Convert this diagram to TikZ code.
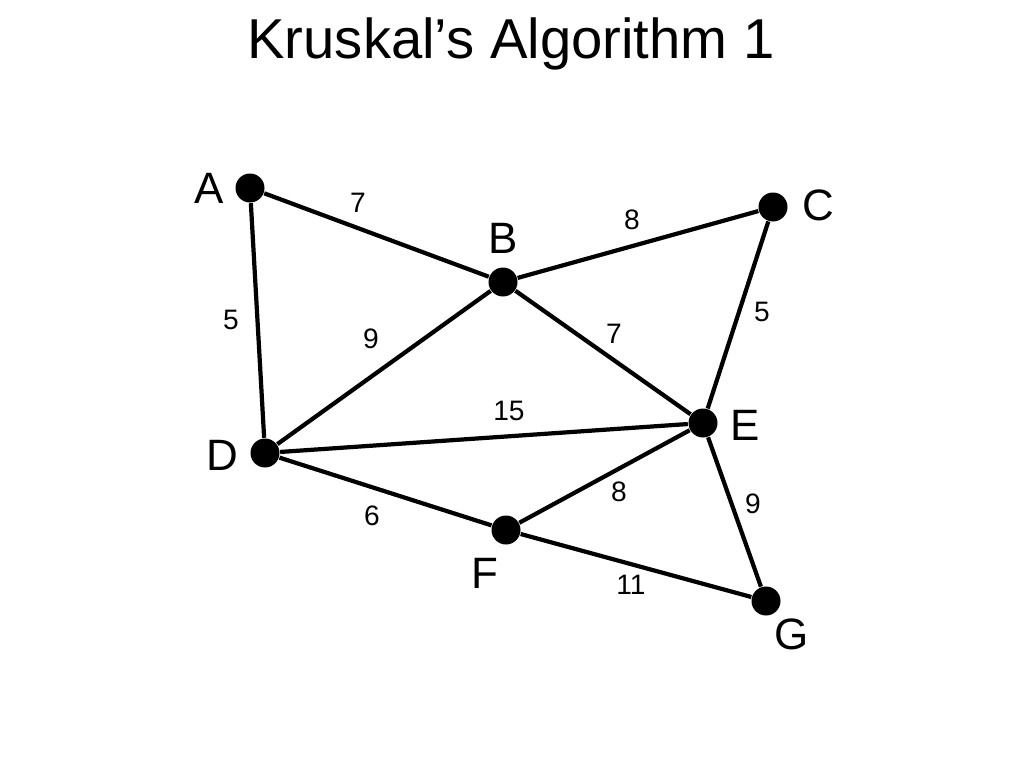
\documentclass[tikz,border=0pt]{standalone}
\usepackage{fontspec}
\setmainfont{Liberation Sans}
\usepackage{tikz}

\begin{document}
\begin{tikzpicture}[
    vertex/.style={circle, fill=black, inner sep=0pt, minimum size=0.29cm},
    vname/.style={font=\fontsize{12.5}{14}\selectfont, inner sep=0pt},
    weight/.style={font=\fontsize{8}{10}\selectfont, inner sep=0pt},
    edge/.style={line width=1.2pt}
]
    \useasboundingbox (0,0) rectangle (10.24,-7.68);

    % title
    \node[font=\fontsize{16}{19}\selectfont] (title) at (5.11,-0.44) {Kruskal’s Algorithm 1};

    % vertices
    \node[vertex] (A) at (2.50,-1.88) {};
    \node[vertex] (B) at (5.03,-2.82) {};
    \node[vertex] (C) at (7.73,-2.07) {};
    \node[vertex] (D) at (2.65,-4.53) {};
    \node[vertex] (E) at (7.03,-4.23) {};
    \node[vertex] (F) at (5.06,-5.30) {};
    \node[vertex] (G) at (7.66,-6.01) {};

    \node[vname] (lA) at (2.09,-1.88) {A};
    \node[vname] (lB) at (5.03,-2.38) {B};
    \node[vname] (lC) at (8.18,-2.05) {C};
    \node[vname] (lD) at (2.22,-4.55) {D};
    \node[vname] (lE) at (7.45,-4.25) {E};
    \node[vname] (lF) at (4.85,-5.73) {F};
    \node[vname] (lG) at (7.92,-6.34) {G};

    % edges
    \draw[edge] (A) -- (B);
    \draw[edge] (B) -- (C);
    \draw[edge] (A) -- (D);
    \draw[edge] (D) -- (B);
    \draw[edge] (B) -- (E);
    \draw[edge] (C) -- (E);
    \draw[edge] (D) -- (E);
    \draw[edge] (D) -- (F);
    \draw[edge] (F) -- (E);
    \draw[edge] (E) -- (G);
    \draw[edge] (F) -- (G);

    % weights
    \node[weight] (wAB) at (3.58,-2.03) {7};
    \node[weight] (wBC) at (6.32,-2.20) {8};
    \node[weight] (wAD) at (2.31,-3.20) {5};
    \node[weight] (wDB) at (3.71,-3.39) {9};
    \node[weight] (wBE) at (6.14,-3.34) {7};
    \node[weight] (wCE) at (7.62,-3.12) {5};
    \node[weight] (wDE) at (5.09,-4.11) {15};
    \node[weight] (wDF) at (3.72,-5.16) {6};
    \node[weight] (wFE) at (6.19,-4.92) {8};
    \node[weight] (wEG) at (7.53,-5.04) {9};
    \node[weight] (wFG) at (6.31,-5.85) {11};
\end{tikzpicture}
\end{document}
